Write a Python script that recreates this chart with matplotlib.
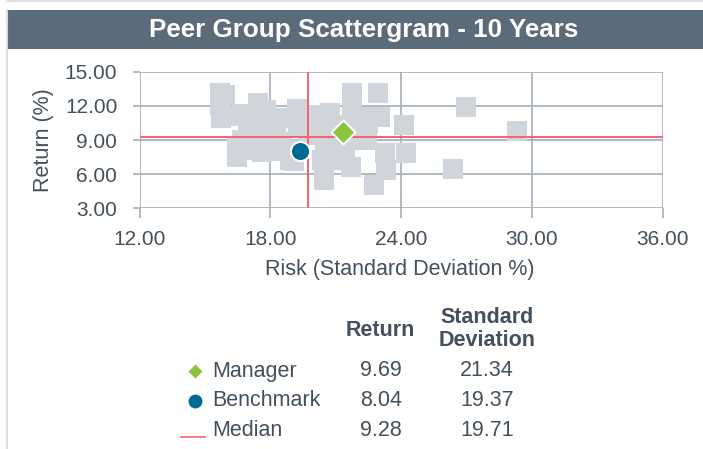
import matplotlib
matplotlib.use("Agg")
import matplotlib.pyplot as plt
from matplotlib.lines import Line2D

plt.rcParams["font.family"] = ["Liberation Sans", "DejaVu Sans"]

W, H = 703, 449

# peer universe (risk %, return %)
peer_risk = [15.69, 15.69, 15.74, 15.92, 16.52, 17.44, 17.80, 17.62, 18.26, 19.22,
             19.27, 20.10, 20.74, 21.75, 21.43, 21.75, 22.94, 23.03, 22.48, 22.25,
             24.13, 26.98, 29.32, 26.38, 24.22, 23.26, 23.30, 22.76, 21.70, 21.24,
             20.46, 20.37, 20.51, 21.43, 22.11, 16.47, 16.47, 17.07, 17.62, 18.22,
             18.90, 19.13, 16.70, 18.54, 19.73, 16.97, 20.74, 22.44, 19.09, 16.75,
             18.67, 20.51, 21.88, 18.00, 17.30, 20.97]
peer_return = [13.13, 12.07, 10.93, 12.95, 11.11, 12.25, 11.63, 10.58, 10.23, 11.72,
               10.14, 11.19, 11.37, 13.13, 10.32, 11.37, 13.13, 11.02, 10.40, 11.02,
               10.32, 11.90, 9.79, 6.45, 7.86, 7.86, 6.36, 5.04, 6.63, 7.24,
               5.48, 7.24, 8.30, 8.30, 9.00, 8.30, 7.51, 8.12, 7.94, 8.03,
               7.24, 8.12, 9.00, 8.82, 9.44, 9.87, 9.44, 9.00, 7.15, 11.28,
               10.93, 10.05, 10.05, 9.00, 9.00, 8.12]

series_names = ["Manager", "Benchmark", "Median"]
series_return = [9.69, 8.04, 9.28]
series_sd = [21.34, 19.37, 19.71]

x_ticks = [12, 18, 24, 30, 36]
y_ticks = [3, 6, 9, 12, 15]

GRID = "#aab3bd"
PEER = "#d0d5dc"
MEDIAN = "#f3636d"
MANAGER = "#8cc43f"
BENCH = "#006a93"
TEXT = "#44505c"
HEAD = "#5b6b7a"
FS = 15.5


def fx(px):
    return px / W


def fy(py):
    return 1 - py / H


fig = plt.figure(figsize=(W / 100, H / 100), dpi=100)

# page frame and title band
fig.add_artist(Line2D([fx(7), 1], [fy(1), fy(1)], color="#dde1e6", lw=1.5))
fig.add_artist(Line2D([fx(7.5), fx(7.5)], [fy(10), 0], color="#d9dee4", lw=1.5))
fig.add_artist(plt.Rectangle((fx(7), fy(49)), 1 - fx(7), (49 - 10) / H,
                             facecolor=HEAD, edgecolor="none"))
fig.text(fx(364), fy(30), "Peer Group Scattergram - 10 Years", color="white",
         fontsize=18.7, fontweight="bold", ha="center", va="center")

x0, x1, y0, y1 = 139.5, 662.7, 71.7, 208.3
ax = fig.add_axes([fx(x0), fy(y1), (x1 - x0) / W, (y1 - y0) / H])
ax.set_xlim(12, 36)
ax.set_ylim(3, 15)
for s in ax.spines.values():
    s.set_visible(False)
ax.set_xticks(x_ticks)
ax.set_yticks(y_ticks)
ax.set_xticklabels([f"{v:.2f}" for v in x_ticks])
ax.set_yticklabels([f"{v:.2f}" for v in y_ticks])
ax.grid(True, color=GRID, lw=1.3, zorder=0)
ax.set_axisbelow(True)
ax.tick_params(axis="x", length=7, width=1.3, color=GRID, labelsize=15,
               labelcolor=TEXT, pad=8.5)
ax.tick_params(axis="y", length=5, width=1.3, color=GRID, labelsize=15,
               labelcolor=TEXT, pad=11)

ax.scatter(peer_risk, peer_return, marker="s", s=205, color=PEER,
           edgecolors="none", zorder=2)
ax.axhline(series_return[2], color=MEDIAN, lw=1.4, zorder=3)
ax.axvline(series_sd[2], color=MEDIAN, lw=1.4, zorder=3)
ax.scatter([series_sd[0]], [series_return[0]], marker="D", s=150, color=MANAGER,
           edgecolors="white", linewidths=1.5, zorder=4)
ax.scatter([series_sd[1]], [series_return[1]], marker="o", s=190, color=BENCH,
           edgecolors="white", linewidths=1.5, zorder=4)

fig.text(fx(43), fy(140), "Return (%)", rotation=90, fontsize=FS, color=TEXT,
         ha="center", va="center")
fig.text(fx(400), fy(270), "Risk (Standard Deviation %)", fontsize=FS,
         color=TEXT, ha="center", va="center")

# summary table
fig.text(fx(380), fy(330), "Return", fontsize=FS, fontweight="bold",
         color=TEXT, ha="center", va="center")
fig.text(fx(487), fy(329), "Standard\nDeviation", fontsize=FS,
         fontweight="bold", color=TEXT, ha="center", va="center",
         linespacing=1.1)
row_y = [371, 401, 431]
for name, ret, sd, py in zip(series_names, series_return, series_sd, row_y):
    fig.text(fx(212), fy(py), name, fontsize=FS, color=TEXT, va="center")
    fig.text(fx(381), fy(py), f"{ret:.2f}", fontsize=FS, color=TEXT,
             ha="center", va="center")
    fig.text(fx(487), fy(py), f"{sd:.2f}", fontsize=FS, color=TEXT,
             ha="center", va="center")
fig.add_artist(Line2D([fx(195)], [fy(row_y[0])], marker="D", ms=8,
                      color=MANAGER, mec="white", mew=1))
fig.add_artist(Line2D([fx(195)], [fy(row_y[1])], marker="o", ms=11,
                      color=BENCH, mec="white", mew=1))
fig.add_artist(Line2D([fx(181), fx(205)], [fy(437), fy(437)], color=MEDIAN,
                      lw=1.2))

fig.savefig("out.png", dpi=100)
